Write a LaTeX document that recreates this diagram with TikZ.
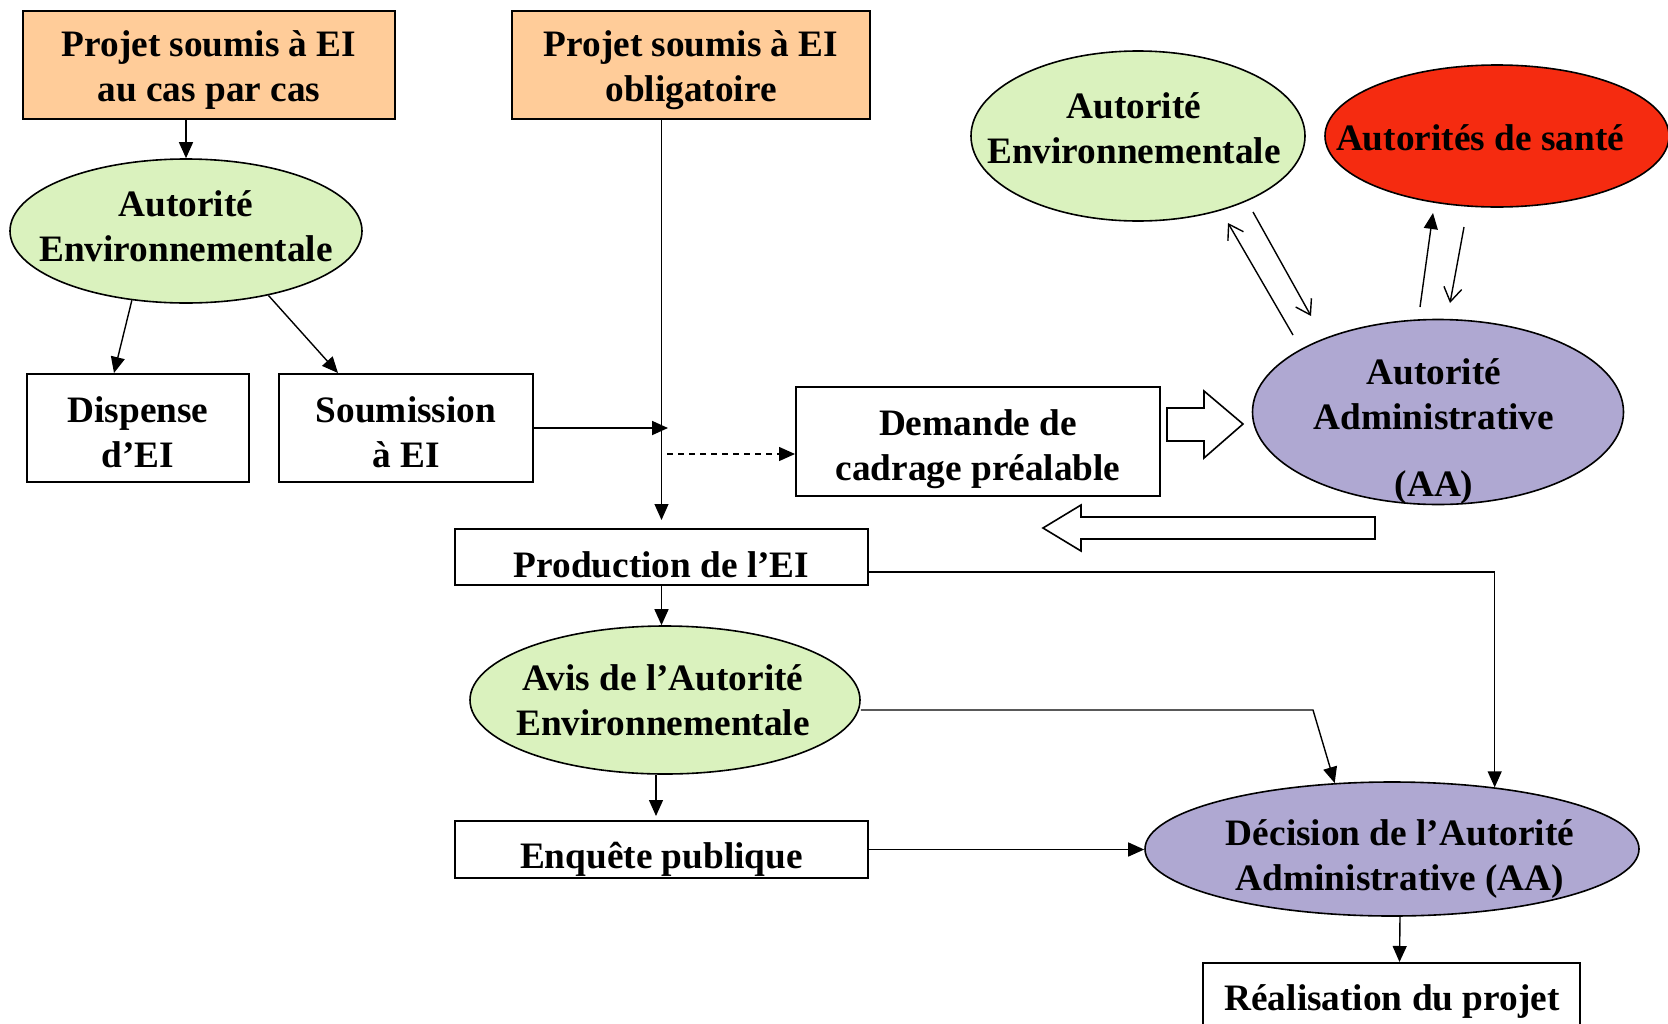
\documentclass[tikz,border=0pt]{standalone}
\usepackage{fontspec}
\setmainfont{Liberation Serif}
\usetikzlibrary{shapes.geometric,arrows.meta,calc}
\definecolor{orangebox}{RGB}{255,204,153}
\definecolor{lgreen}{RGB}{218,242,190}
\definecolor{sred}{RGB}{245,43,16}
\definecolor{purp}{RGB}{175,168,210}
\begin{document}
\begin{tikzpicture}[x=1pt,y=-1pt,
  font=\fontsize{37.3}{45}\selectfont\bfseries,
  boxn/.style={draw, line width=2pt, inner sep=0pt},
  elln/.style={ellipse, draw, line width=1.6pt, inner sep=0pt},
  etext/.style={align=center, inner sep=0pt},
  arr/.style={line width=1.4pt, -{Triangle[length=16pt,width=14pt]}},
  oarr/.style={line width=1.4pt, -{Straight Barb[length=14pt,width=18pt]}},
  barrow/.style={draw, line width=1.6pt, fill=white, line join=miter}]
\clip (0,0) rectangle (1668,1023);
\fill[white] (0,0) rectangle (1668,1023);

% top boxes
\node[boxn, fill=orangebox, minimum width=372pt, minimum height=108pt] (p1) at (209,65) {};
\node[etext] (p1t) at (209,70.5) {Projet soumis à EI\\au cas par cas};
\node[boxn, fill=orangebox, minimum width=358pt, minimum height=108pt] (p2) at (691,65) {};
\node[etext] (p2t) at (691,70.5) {Projet soumis à EI\\obligatoire};

% left ellipse
\node[elln, fill=lgreen, minimum width=352pt, minimum height=144pt] (ae1) at (186,231) {};
\node[etext] (ae1t) at (186,226.5) {Autorité\\Environnementale};

\node[boxn, minimum width=222pt, minimum height=108pt] (disp) at (138,428) {};
\node[etext] (dispt) at (138,432) {Dispense\\d’EI};
\node[boxn, minimum width=254pt, minimum height=108pt] (soum) at (406,428) {};
\node[etext] (soumt) at (406,432) {Soumission\\à EI};
\node[boxn, minimum width=364pt, minimum height=109pt] (dem) at (978,441) {};
\node[etext] (demt) at (978,449) {Demande de\\cadrage préalable};
\node[boxn, minimum width=413pt, minimum height=56pt] (prod) at (661.5,557) {};
\node[etext] (prodt) at (661.5,564.5) {Production de l’EI};

\node[elln, fill=lgreen, minimum width=390pt, minimum height=148pt] (avis) at (665,700) {};
\node[etext] (avist) at (663,700) {Avis de l’Autorité\\Environnementale};

\node[boxn, minimum width=413pt, minimum height=57pt] (enq) at (661.5,849.5) {};
\node[etext] (enqt) at (661.5,859) {Enquête publique};

\node[elln, fill=purp, minimum width=494pt, minimum height=134pt] (dec) at (1392,849) {};
\node[etext] (dect) at (1400,859) {Décision de l’Autorité\\Administrative (AA)};

\node[boxn, minimum width=377pt, minimum height=74pt] (real) at (1391.5,1000) {};
\node[etext] (realt) at (1392,1001) {Réalisation du projet};

% top right ellipses
\node[elln, fill=lgreen, minimum width=334pt, minimum height=170pt] (ae2) at (1138,136) {};
\node[etext] (ae2t) at (1134,128) {Autorité\\Environnementale};
\node[elln, fill=sred, minimum width=344pt, minimum height=142pt] (sante) at (1497,136) {};
\node[etext] (santet) at (1480,138) {Autorités de santé};

\node[elln, fill=purp, minimum width=371pt, minimum height=185pt] (aa) at (1438,412) {};
\node[etext] (aat) at (1434,432) {Autorité\\Administrative\\[22pt](AA)};

% connectors left part
\draw[arr] (p1.south -| ae1.north) -- (ae1.north);
\draw[arr] (ae1.232) -- ([xshift=-24pt]disp.north);
\draw[arr] (ae1.322) -- ([xshift=-68pt]soum.north);
\draw[arr, line width=1pt] (p2.south -| prod.north) -- ([yshift=8pt]prod.north);
\coordinate (sj) at (668,428);
\draw[arr, line width=1.8pt] (soum.east) -- (sj);
\coordinate (ds) at (667,454);
\draw[arr, dashed, dash pattern=on 6pt off 5pt] (ds) -- (ds -| dem.west);
\draw[arr] (prod.south) -- (avis.north -| prod.south);
\draw[arr] (avis.south -| 656,0) -- ([yshift=4pt]enq.north -| 656,0);
\draw[arr] (enq.east) -- (enq.east -| dec.west);
\draw[arr] ([yshift=-15pt]prod.east) -| (dec.31);
\draw[arr] ([yshift=-10pt]avis.east) -- (1313,710) -- (dec.131);
\draw[arr] ([xshift=8pt]dec.south) -- ([xshift=8pt]real.north);

% exchanges with top ellipses
\coordinate (a1s) at (1293,335); \coordinate (a1e) at (1228,223);
\coordinate (a2s) at (1253,212); \coordinate (a2e) at (1311,316);
\coordinate (a3s) at (1420,307); \coordinate (a3e) at (1433,213);
\coordinate (a4s) at (1464,227); \coordinate (a4e) at (1450,303);
\draw[oarr] (a1s) -- (a1e);
\draw[oarr] (a2s) -- (a2e);
\draw[arr] (a3s) -- (a3e);
\draw[oarr] (a4s) -- (a4e);

% block arrows
\draw[barrow] (1167,408) -- (1204,408) -- (1204,391) -- (1243,424) -- (1204,458) -- (1204,441) -- (1167,441) -- cycle;
\draw[barrow] (1375,517) -- (1081,517) -- (1081,505) -- (1043,528) -- (1081,551) -- (1081,539) -- (1375,539) -- cycle;
\end{tikzpicture}
\end{document}
